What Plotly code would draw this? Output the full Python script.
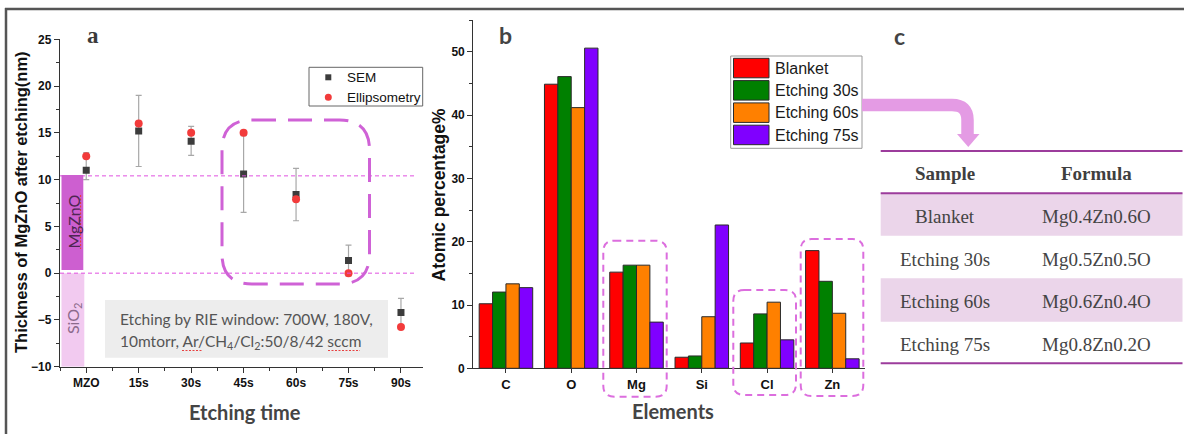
import plotly.graph_objects as go

W, H = 1184, 434

# ---------------- data ----------------
etch_times = ["MZO", "15s", "30s", "45s", "60s", "75s", "90s"]
sem_thickness = [11.0, 15.2, 14.1, 10.6, 8.4, 1.35, -4.2]
sem_err_plus = [1.9, 3.8, 1.6, 4.1, 2.8, 1.65, 1.5]
sem_err_minus = [1.0, 3.8, 1.5, 4.1, 2.8, 1.65, 1.5]
ellipso_thickness = [12.5, 16.0, 15.0, 15.0, 7.9, 0.0, -5.75]

elements = ["C", "O", "Mg", "Si", "Cl", "Zn"]
series_names = ["Blanket", "Etching 30s", "Etching 60s", "Etching 75s"]
series_colors = ["#ff0000", "#008000", "#ff8000", "#8000ff"]
blanket = [10.2, 44.9, 15.2, 1.75, 4.0, 18.6]
etch30 = [12.05, 46.1, 16.3, 1.95, 8.6, 13.75]
etch60 = [13.35, 41.2, 16.3, 8.15, 10.45, 8.7]
etch75 = [12.75, 50.6, 7.3, 22.65, 4.5, 1.5]
series_values = [blanket, etch30, etch60, etch75]

table_header = ["Sample", "Formula"]
table_samples = ["Blanket", "Etching 30s", "Etching 60s", "Etching 75s"]
table_formulas = ["Mg0.4Zn0.6O", "Mg0.5Zn0.5O", "Mg0.6Zn0.4O", "Mg0.8Zn0.2O"]

# ---------------- helpers ----------------
def px(x):
    return x / W

def py(y):
    return 1 - y / H

def P(x, y):
    return f"{px(x):.5f},{py(y):.5f}"

def rrect(x0, y0, x1, y1, r):
    return (f"M {P(x0 + r, y0)} L {P(x1 - r, y0)} Q {P(x1, y0)} {P(x1, y0 + r)} "
            f"L {P(x1, y1 - r)} Q {P(x1, y1)} {P(x1 - r, y1)} "
            f"L {P(x0 + r, y1)} Q {P(x0, y1)} {P(x0, y1 - r)} "
            f"L {P(x0, y0 + r)} Q {P(x0, y0)} {P(x0 + r, y0)} Z")

SANS = "Liberation Sans"
SERIF = "Liberation Serif"
HUM = "Lato"

annotations = []
shapes = []

def text(x, y, s, font, xanchor="center", yanchor="middle", angle=0):
    annotations.append(dict(xref="paper", yref="paper", x=px(x), y=py(y), text=s,
                            xanchor=xanchor, yanchor=yanchor, textangle=angle,
                            showarrow=False, font=font))

def squiggle(x0, y0, x1, y1):
    shapes.append(dict(type="line", xref="paper", yref="paper", x0=px(x0), x1=px(x1),
                       y0=py(y0), y1=py(y1), line=dict(color="#e84040", width=1.2, dash="2px,1.5px")))

fig = go.Figure()

# ---------------- panel a ----------------
sem_color = "#3c3c3c"
ell_color = "#f23b3b"
xa = list(range(len(etch_times)))
fig.add_trace(go.Scatter(
    x=xa, y=sem_thickness, mode="markers", name="SEM", showlegend=False,
    marker=dict(symbol="square", size=7, color=sem_color),
    error_y=dict(type="data", symmetric=False, array=sem_err_plus,
                 arrayminus=sem_err_minus, color="#a8a8a8", thickness=1.2, width=3),
    xaxis="x", yaxis="y"))
fig.add_trace(go.Scatter(
    x=xa, y=ellipso_thickness, mode="markers", name="Ellipsometry", showlegend=False,
    marker=dict(symbol="circle", size=8, color=ell_color),
    xaxis="x", yaxis="y"))

# ---------------- panel b ----------------
for name, color, vals in zip(series_names, series_colors, series_values):
    fig.add_trace(go.Bar(
        x=elements, y=vals, name=name, showlegend=False,
        marker=dict(color=color, line=dict(color="#2a2a2a", width=1)),
        xaxis="x2", yaxis="y2"))

# frame lines
shapes.append(dict(type="line", xref="paper", yref="paper", x0=px(5), x1=px(1184),
                   y0=py(9), y1=py(9), line=dict(color="#555555", width=2.5)))
shapes.append(dict(type="line", xref="paper", yref="paper", x0=px(6), x1=px(6),
                   y0=py(8), y1=py(434), line=dict(color="#555555", width=2.5)))

# dashed reference lines in a
for yv in [10.4, 0.0]:
    shapes.append(dict(type="line", xref="paper", yref="y", x0=px(60), x1=px(417),
                       y0=yv, y1=yv, line=dict(color="#e050e0", width=1, dash="4px,3px")))

# MgZnO / SiO2 layers
shapes.append(dict(type="rect", xref="paper", yref="y", x0=px(61.5), x1=px(83.3),
                   y0=0.35, y1=10.5, fillcolor="#cd5fd0", line=dict(width=0), layer="above"))
shapes.append(dict(type="rect", xref="paper", yref="y", x0=px(61.5), x1=px(84.3),
                   y0=-10, y1=0.0, fillcolor="#f2caf0", line=dict(width=0), layer="below"))
text(72.5, 222, "MgZnO", dict(family=HUM, size=16, color="#4f2652"), angle=-90)
text(73, 318, "SiO<sub>2</sub>", dict(family=HUM, size=16, color="#8c6a8c"), angle=-90)
squiggle(80.5, 195, 80.5, 249)

# gray info box
shapes.append(dict(type="rect", xref="paper", yref="paper", x0=px(105), x1=px(388),
                   y0=py(300), y1=py(357.7), fillcolor="#ededed", line=dict(width=0), layer="below"))
text(118, 319, "Etching by RIE window: 700W, 180V,",
     dict(family=HUM, size=15.5, color="#555555"), xanchor="left")
text(118, 342, "10mtorr, Ar/CH<sub>4</sub>/Cl<sub>2</sub>:50/8/42 sccm",
     dict(family=HUM, size=15.5, color="#555555"), xanchor="left")
squiggle(182, 350.5, 202, 350.5)
squiggle(328, 350.5, 360, 350.5)

# big dashed rounded box in a
shapes.append(dict(type="path", xref="paper", yref="paper",
                   path=rrect(222, 120, 369.5, 284, 30),
                   line=dict(color="#cf62d6", width=3, dash="24px,12px")))

# legend a (manual)
shapes.append(dict(type="rect", xref="paper", yref="paper", x0=px(309), x1=px(422.7),
                   y0=py(67.3), y1=py(106), fillcolor="white", line=dict(color="#666666", width=1)))
shapes.append(dict(type="rect", xref="paper", yref="paper", x0=px(325.3), x1=px(331.3),
                   y0=py(74.3), y1=py(80.3), fillcolor=sem_color, line=dict(width=0)))
shapes.append(dict(type="circle", xref="paper", yref="paper", x0=px(324.8), x1=px(331.8),
                   y0=py(93.8), y1=py(100.8), fillcolor=ell_color, line=dict(width=0)))
text(345, 77.3, "SEM", dict(family=SANS, size=13.5, color="#111111"), xanchor="left")
text(345, 97.3, "Ellipsometry", dict(family=SANS, size=13.5, color="#111111"), xanchor="left")

# small dashed rounded boxes in b
for (x0, y0, x1, y1) in [(603.3, 240.7, 666.7, 396.7), (733.3, 290, 796, 395), (800.7, 239, 863.3, 396)]:
    shapes.append(dict(type="path", xref="paper", yref="paper",
                       path=rrect(x0, y0, x1, y1, 11),
                       line=dict(color="#dc6ede", width=2, dash="7px,5px")))

# legend b (manual)
shapes.append(dict(type="rect", xref="paper", yref="paper", x0=px(730.7), x1=px(862),
                   y0=py(56), y1=py(148.3), fillcolor="white", line=dict(color="#999999", width=1)))
for i, (name, color) in enumerate(zip(series_names, series_colors)):
    top = 58.3 + i * 22.3
    shapes.append(dict(type="rect", xref="paper", yref="paper", x0=px(733.5), x1=px(769),
                       y0=py(top), y1=py(top + 19.5), fillcolor=color,
                       line=dict(color="#2a2a2a", width=1)))
    text(773, top + 10, name, dict(family=SANS, size=16, color="#1a1a1a"), xanchor="left")

# arrow from legend to table
shapes.append(dict(type="path", xref="paper", yref="paper",
                   path=f"M {P(862, 105)} L {P(952, 105)} Q {P(967.5, 105)} {P(967.5, 120)} L {P(967.5, 135)}",
                   line=dict(color="#e49be4", width=12.5)))
shapes.append(dict(type="path", xref="paper", yref="paper",
                   path=f"M {P(957, 134)} L {P(979.5, 134)} L {P(968.3, 147)} Z",
                   fillcolor="#e49be4", line=dict(width=0)))

# table c
TX0, TX1 = 880.7, 1182.5
row_tops = [193.3, 235.7, 278.3, 321.7]
row_bottoms = [235.7, 278.3, 321.7, 363.3]
for i in range(len(table_samples)):
    if i % 2 == 0:
        shapes.append(dict(type="rect", xref="paper", yref="paper", x0=px(TX0), x1=px(TX1),
                           y0=py(row_tops[i]), y1=py(row_bottoms[i]), fillcolor="#ebd5ea",
                           line=dict(width=0), layer="below"))
for yl in [151, 193.3, 363.3]:
    shapes.append(dict(type="line", xref="paper", yref="paper", x0=px(TX0), x1=px(TX1),
                       y0=py(yl), y1=py(yl), line=dict(color="#9c3c9c", width=2)))
col_x = [945, 1096.5]
for j, h in enumerate(table_header):
    text(col_x[j], 173.5, f"<b>{h}</b>", dict(family=SERIF, size=19, color="#3f3f3f"))
row_centers = [216.7, 259.7, 301.7, 344.3]
for i, (s, f) in enumerate(zip(table_samples, table_formulas)):
    text(col_x[0], row_centers[i], s, dict(family=SERIF, size=19, color="#444444"))
    text(col_x[1], row_centers[i], f, dict(family=SERIF, size=19, color="#444444"))

# panel letters
text(93, 36, "<b>a</b>", dict(family=SERIF, size=23, color="#3a3a3a"))
text(505, 35, "<b>b</b>", dict(family=HUM, size=23, color="#444444"))
text(899, 36, "<b>c</b>", dict(family=HUM, size=23, color="#444444"))

# axis titles
text(21, 202, "<b>Thickness of MgZnO after etching(nm)</b>",
     dict(family=SANS, size=16.5, color="#111111"), angle=-90)
text(244.5, 411.5, "<b>Etching time</b>", dict(family=HUM, size=20, color="#444444"))
text(439, 194.5, "<b>Atomic percentage%</b>",
     dict(family=SANS, size=17.5, color="#111111"), angle=-90)
text(673, 411, "<b>Elements</b>", dict(family=HUM, size=20, color="#444444"))

axis_common = dict(showgrid=False, zeroline=False, showline=True, linecolor="#333333",
                   linewidth=1.3, ticks="outside", tickcolor="#333333", tickwidth=1.2,
                   automargin=False,
                   tickfont=dict(family=SANS, size=12, color="#111111", weight="bold"))

fig.update_layout(
    width=W, height=H, margin=dict(l=0, r=0, t=0, b=0, autoexpand=False),
    paper_bgcolor="white", plot_bgcolor="rgba(0,0,0,0)",
    barmode="group", bargap=0.18, bargroupgap=0,
    xaxis=dict(domain=[px(60), px(423)], range=[-0.5, 6.42], tickmode="array",
               tickvals=xa, ticktext=etch_times, ticklen=5, anchor="y",
               minor=dict(ticks="outside", ticklen=3, dtick=0.5, tick0=0, tickcolor="#333333"),
               **axis_common),
    yaxis=dict(domain=[py(366.7), py(39.3)], range=[-10, 25], dtick=5, ticklen=5,
               anchor="x", minor=dict(ticks="outside", ticklen=3, dtick=2.5, tickcolor="#333333"),
               **axis_common),
    xaxis2=dict(domain=[px(473.3), px(865)], range=[-0.5, 5.5], ticklen=4, anchor="y2",
                type="category", **axis_common),
    yaxis2=dict(domain=[py(368.3), py(20.3)], range=[0, 55], dtick=10, ticklen=5,
                anchor="x2", minor=dict(ticks="outside", ticklen=3, dtick=5, tickcolor="#333333"),
                **axis_common),
    shapes=shapes, annotations=annotations, showlegend=False,
)
fig.update_layout(xaxis2_tickfont_size=13)

fig.write_html("out.html", config={"displayModeBar": False},
               post_script="document.body.style.margin='0px';document.body.style.overflow='hidden';")
